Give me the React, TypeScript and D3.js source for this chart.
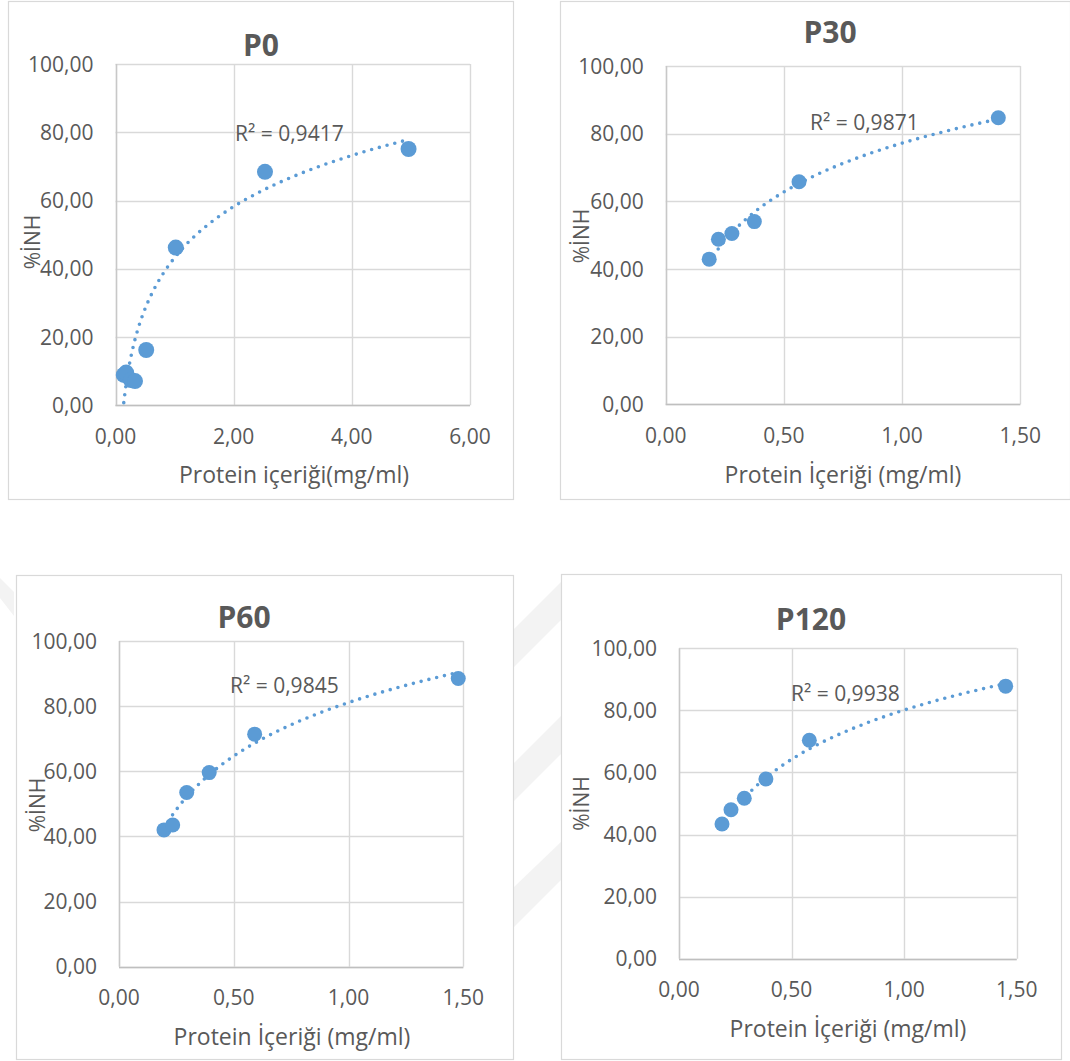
import React from "react";
import * as d3 from "d3";

// ---- data ----
const p0X = [0.14, 0.18, 0.26, 0.33, 0.52, 1.02, 2.53, 4.96];
const p0Y = [8.9, 9.6, 7.4, 7.1, 16.2, 46.2, 68.4, 75.1];
const p30X = [0.184, 0.223, 0.28, 0.375, 0.564, 1.407];
const p30Y = [42.9, 48.8, 50.5, 54.0, 65.8, 84.7];
const p60X = [0.196, 0.234, 0.295, 0.393, 0.591, 1.478];
const p60Y = [42.0, 43.5, 53.5, 59.6, 71.4, 88.5];
const p120X = [0.191, 0.231, 0.29, 0.386, 0.579, 1.451];
const p120Y = [43.4, 48.0, 51.7, 57.9, 70.4, 87.8];

// logarithmic trendline y = a*ln(x) + b
const trendA = [21.6, 20.8, 23.7, 22.9];
const trendB = [43.25, 77.2, 81.1, 80.1];
const r2Labels = ["R² = 0,9417", "R² = 0,9871", "R² = 0,9845", "R² = 0,9938"];
const titles = ["P0", "P30", "P60", "P120"];
const xTitles = [
  "Protein içeriği(mg/ml)",
  "Protein İçeriği (mg/ml)",
  "Protein İçeriği (mg/ml)",
  "Protein İçeriği (mg/ml)",
];
const yTitle = "%İNH";
const yTicks = [0, 20, 40, 60, 80, 100];
const p0XTicks = [0, 2, 4, 6];
const pXTicks = [0, 0.5, 1, 1.5];

const fmt = d3
  .formatLocale({ decimal: ",", thousands: ".", grouping: [3], currency: ["", ""] })
  .format(".2f");

const FONT = "'Open Sans', 'DejaVu Sans', sans-serif";
const TXT = "#595959";
const BLUE = "#5b9bd5";

type PanelProps = {
  frame: [number, number, number, number];
  plot: [number, number, number, number]; // l, r, t, b
  xs: number[];
  ys: number[];
  xMax: number;
  xTicks: number[];
  a: number;
  b: number;
  title: string;
  titlePos: [number, number];
  xTitle: string;
  xTitlePos: [number, number];
  yTitlePos: [number, number];
  r2: string;
  r2Pos: [number, number];
  r: number;
};

function Panel(p: PanelProps) {
  const [l, r, t, b] = p.plot;
  const x = d3.scaleLinear().domain([0, p.xMax]).range([l, r]);
  const y = d3.scaleLinear().domain([0, 100]).range([b, t]);
  const xmin = d3.min(p.xs) as number;
  const xmax = d3.max(p.xs) as number;
  const samples = d3.range(0, 201).map((i) => xmin + ((xmax - xmin) * i) / 200);
  const line = d3
    .line<number>()
    .x((d) => x(d))
    .y((d) => y(p.a * Math.log(d) + p.b))
    .curve(d3.curveLinear);
  const [fx, fy, fw, fh] = p.frame;
  return (
    <g>
      <rect x={fx + 0.5} y={fy + 0.5} width={fw} height={fh} fill="#fff" stroke="#d9d9d9" strokeWidth={1.2} />
      {yTicks.map((v) => (
        <line key={"h" + v} x1={l} x2={r} y1={Math.round(y(v)) + 0.5} y2={Math.round(y(v)) + 0.5} stroke="#d9d9d9" strokeWidth={1.4} />
      ))}
      {p.xTicks.map((v) => (
        <line key={"v" + v} x1={Math.round(x(v)) + 0.5} x2={Math.round(x(v)) + 0.5} y1={t} y2={b} stroke="#d9d9d9" strokeWidth={1.4} />
      ))}
      <line x1={l} x2={r} y1={Math.round(b) + 0.5} y2={Math.round(b) + 0.5} stroke="#bfbfbf" strokeWidth={1.6} />
      <line x1={Math.round(l) + 0.5} x2={Math.round(l) + 0.5} y1={t} y2={b} stroke="#c8c8c8" strokeWidth={1.4} />
      {yTicks.map((v) => (
        <text key={"yt" + v} x={l - 22} y={y(v)} dy="0.36em" textAnchor="end" fontFamily={FONT} fontSize={21} fill={TXT}>
          {fmt(v)}
        </text>
      ))}
      {p.xTicks.map((v) => (
        <text key={"xt" + v} x={x(v)} y={b + 31} dy="0.36em" textAnchor="middle" fontFamily={FONT} fontSize={21} fill={TXT}>
          {fmt(v)}
        </text>
      ))}
      <text x={p.titlePos[0]} y={p.titlePos[1]} dy="0.36em" textAnchor="middle" fontFamily={FONT} fontWeight="bold" fontSize={30} fill={TXT}>
        {p.title}
      </text>
      <text x={p.xTitlePos[0]} y={p.xTitlePos[1]} dy="0.36em" textAnchor="middle" fontFamily={FONT} fontSize={23} fill={TXT}>
        {p.xTitle}
      </text>
      <text
        transform={`translate(${p.yTitlePos[0]},${p.yTitlePos[1]}) rotate(-90)`}
        dy="0.36em"
        textAnchor="middle"
        fontFamily={FONT}
        fontSize={21}
        fill={TXT}
      >
        {yTitle}
      </text>
      <path d={line(samples) || ""} fill="none" stroke={BLUE} strokeWidth={3.6} strokeDasharray="0 8" strokeLinecap="round" />
      {p.xs.map((v, i) => (
        <circle key={"c" + i} cx={x(v)} cy={y(p.ys[i])} r={p.r} fill={BLUE} />
      ))}
      <text x={p.r2Pos[0]} y={p.r2Pos[1]} dy="0.36em" textAnchor="start" fontFamily={FONT} fontSize={21} fill={TXT}>
        {p.r2}
      </text>
    </g>
  );
}

export default function App() {
  return (
    <div style={{ position: "absolute", left: 0, top: 0 }}>
      <svg width={1070} height={1061} style={{ display: "block" }}>
        <rect width={1070} height={1061} fill="#fff" />
        {/* faint watermark stripes */}
        <g fill="#f3f3f3">
          <polygon points="513,630 513,668 561,620 561,582" />
          <polygon points="513,764 513,802 561,754 561,716" />
          <polygon points="513,888 513,928 561,880 561,842" />
          <polygon points="0,578 0,598 14,616 14,592" />
        </g>
        <Panel
          frame={[8, 1, 505, 498]}
          plot={[115.5, 470, 64, 405.3]}
          xs={p0X}
          ys={p0Y}
          xMax={6}
          xTicks={p0XTicks}
          a={trendA[0]}
          b={trendB[0]}
          title={titles[0]}
          titlePos={[261, 45]}
          xTitle={xTitles[0]}
          xTitlePos={[294, 475]}
          yTitlePos={[32, 242]}
          r2={r2Labels[0]}
          r2Pos={[235, 133]}
          r={8}
        />
        <Panel
          frame={[560, 1, 510, 498]}
          plot={[665.7, 1020.3, 66, 404.3]}
          xs={p30X}
          ys={p30Y}
          xMax={1.5}
          xTicks={pXTicks}
          a={trendA[1]}
          b={trendB[1]}
          title={titles[1]}
          titlePos={[830, 32]}
          xTitle={xTitles[1]}
          xTitlePos={[843, 475]}
          yTitlePos={[581, 236]}
          r2={r2Labels[1]}
          r2Pos={[810, 122]}
          r={7.5}
        />
        <Panel
          frame={[16, 575, 497, 484]}
          plot={[119, 463.3, 641, 966.7]}
          xs={p60X}
          ys={p60Y}
          xMax={1.5}
          xTicks={pXTicks}
          a={trendA[2]}
          b={trendB[2]}
          title={titles[2]}
          titlePos={[244, 617]}
          xTitle={xTitles[2]}
          xTitlePos={[292, 1037]}
          yTitlePos={[37, 805]}
          r2={r2Labels[2]}
          r2Pos={[230, 685]}
          r={7.5}
        />
        <Panel
          frame={[561, 574, 500, 485]}
          plot={[679, 1016.7, 648.3, 958.7]}
          xs={p120X}
          ys={p120Y}
          xMax={1.5}
          xTicks={pXTicks}
          a={trendA[3]}
          b={trendB[3]}
          title={titles[3]}
          titlePos={[811, 619]}
          xTitle={xTitles[3]}
          xTitlePos={[848, 1029]}
          yTitlePos={[581.5, 803.5]}
          r2={r2Labels[3]}
          r2Pos={[791, 693]}
          r={7.5}
        />
      </svg>
    </div>
  );
}
